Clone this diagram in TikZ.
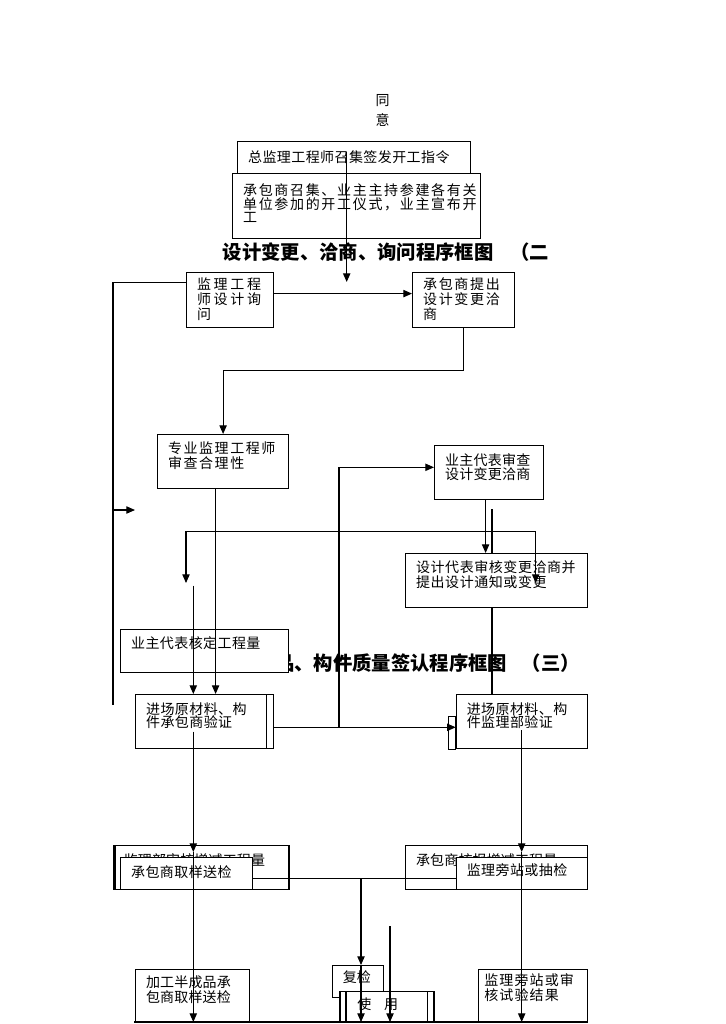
\documentclass[tikz,border=0pt]{standalone}
\usepackage{fontspec}
\setmainfont{Noto Sans CJK SC}
\usetikzlibrary{arrows.meta}
\newdimen\pxu \pxu=0.75pt
\newcommand\boxfont[2]{\addfontfeatures{LetterSpace=#1}\fontsize{10.5}{#2}\selectfont}
\tikzset{
  stage/.style={draw, fill=white, line width=0.9pt, anchor=north west,
    inner xsep=10.5\pxu, inner ysep=0pt, align=left},
  flow/.style={line width=0.8pt, -{Triangle[length=6.5pt,width=5.5pt]}},
  fork/.style={line width=0.8pt, {Triangle[length=6.5pt,width=5.5pt]}-{Triangle[length=6.5pt,width=5.5pt]}},
  link/.style={line width=0.8pt},
  heading/.style={anchor=base west, inner sep=0pt, font=\fontsize{14.5}{16}\selectfont\bfseries},
}
\begin{document}
\begin{tikzpicture}[x=0.75pt,y=-0.75pt]
\useasboundingbox (0,0) rectangle (725,1024);

% approval and start of works
\node[align=center, font=\fontsize{10.5}{15}\selectfont] (agree) at (382.5,110) {同\\意};
\node[heading] (title2) at (222.5,259) {设计变更、洽商、询问程序框图\hspace{12.75pt}（二};
\node[stage, font=\boxfont{3}{11}, text width=212\pxu, text height=21\pxu, text depth=11\pxu] (order) at (237,141) {总监理工程师召集签发开工指令};
\node[stage, font=\boxfont{12}{10}, text width=227\pxu, text height=22.3\pxu, text depth=42.7\pxu] (ceremony) at (232,173) {承包商召集、业主主持参建各有关\\单位参加的开工仪式，业主宣布开\\工};
\coordinate (go) at (346.7,152);
\draw[flow] (go) -- ++(0,130);

% design change, negotiation, inquiry
\node[stage, font=\boxfont{19}{11.25}, text width=66\pxu, text height=16.6\pxu, text depth=38.4\pxu] (inquire) at (186,272) {监理工程\\师设计询\\问};
\node[stage, font=\boxfont{12}{11.25}, text width=81\pxu, text height=16.6\pxu, text depth=38.4\pxu] (propose) at (412,272) {承包商提出\\设计变更洽\\商};
\draw[flow] ([yshift=6.5\pxu]inquire.east) coordinate (ask) -- (ask -| propose.west);
\coordinate (spine) at (113,705);
\draw[link] ([yshift=17.8\pxu]inquire.west) -| (spine);
\coordinate (back) at (113,510);
\draw[flow] (back) -- ++(22,0);

\node[stage, font=\boxfont{11}{11}, text width=110\pxu, text height=19.3\pxu, text depth=34.7\pxu] (review) at (157,434) {专业监理工程师\\审查合理性};
\node[stage, font=\boxfont{2}{10.5}, text width=88\pxu, text height=19.6\pxu, text depth=34.4\pxu] (owner) at (434,445) {业主代表审查\\设计变更洽商};
\node[stage, font=\boxfont{3}{10}, text width=117\pxu, text height=19.6\pxu, text depth=34.4\pxu] (selfcheck) at (135,694) {进场原材料、构\\件承包商验证};
\draw[link] ([xshift=-7.6\pxu]selfcheck.north east) -- ([xshift=-7.6\pxu]selfcheck.south east);
\node[stage, font=\boxfont{3}{10}, text width=110\pxu, text height=19.6\pxu, text depth=34.4\pxu] (supcheck) at (455.7,694) {进场原材料、构\\件监理部验证};
\draw[link] ([xshift=-7.4\pxu]supcheck.south west) rectangle ([yshift=5.3\pxu]supcheck.west);

% materials quality procedure (3)
\node[heading] (title3) at (158.9,670.3) {原材料、半成品、构件质量签认程序框图\hspace{11pt}（三）};
\node[stage, font=\boxfont{3}{11}, text width=147\pxu, text height=19.3\pxu, text depth=23.7\pxu] (quantity) at (120,629) {业主代表核定工程量};

\draw[flow] (propose.south) -- ++(0,42) -| (review.north);
\coordinate (pass) at (492,509);
\draw[link] (pass) -- (pass |- supcheck.north);
\node[stage, font=\boxfont{4}{11.25}, text width=161\pxu, text height=19\pxu, text depth=35\pxu] (design) at (405,553) {设计代表审核变更洽商并\\提出设计通知或变更};
\coordinate (forkl) at (186,583);
\coordinate (forkr) at (535.7,583);
\draw[fork] (forkl) -- ++(0,-51.3) -| (forkr);
\draw[flow] ([xshift=-3.5\pxu]owner.south) coordinate (fs) -- (fs |- design.north);
\draw[flow] ([xshift=-7.5\pxu]review.south) coordinate (es) -- (es |- selfcheck.north);
\coordinate (lf) at (193.3,585.7);
\draw[flow] (lf) -- (lf |- selfcheck.north);
\draw[flow] ([yshift=-5.7\pxu]selfcheck.east) coordinate (hj) -- (hj -| supcheck.west);
\coordinate (tap) at (339,726.7);
\draw[flow] (tap) |- ([yshift=5.3\pxu]owner.west);

% sampling and testing
\node[stage, font=\boxfont{1}{11}, text width=154.6\pxu, text height=19.8\pxu, text depth=24.2\pxu] (supqty) at (112.7,845) {监理部审核增减工程量};
\draw[link] ([xshift=2.3\pxu]supqty.north west) -- ([xshift=2.3\pxu]supqty.south west);
\node[stage, font=\boxfont{1}{11}, text width=160.7\pxu, text height=19.8\pxu, text depth=24.2\pxu] (contqty) at (405,845) {承包商核报增减工程量};
\node[stage, font=\boxfont{3}{11}, text width=110.7\pxu, text height=20\pxu, text depth=12\pxu] (sample) at (120,857) {承包商取样送检};
\node[stage, font=\boxfont{3}{11}, text width=110\pxu, text height=18.3\pxu, text depth=13.7\pxu] (witness) at (455.7,857) {监理旁站或抽检};
\node[stage, font=\boxfont{1}{11.25}, text width=93\pxu, text height=18\pxu, text depth=35\pxu] (semi) at (135,969) {加工半成品承\\包商取样送检};
\node[stage, font=\boxfont{8}{11.25}, inner xsep=6\pxu, text width=97\pxu, text height=16.3\pxu, text depth=36.7\pxu] (result) at (477.7,969) {监理旁站或审\\核试验结果};
\draw[link] ([yshift=-5.3\pxu]sample.east) coordinate (ln) -- (ln -| witness.west);
\coordinate (floorl) at (134,1022);
\coordinate (floorr) at (587,1022);
\coordinate (h1) at (193.3,731.7);
\coordinate (h2) at (193.3,852);
\draw[flow] (h1) -- (h2);
\draw[flow] (h2) -- (h2 |- floorl);
\coordinate (j1) at (521.7,730);
\coordinate (j2) at (521.7,852);
\draw[flow] (j1) -- (j2);
\draw[flow] (j2) -- (j2 |- floorl);

\node[stage, font=\boxfont{1}{11}, text width=30\pxu, text height=17\pxu, text depth=15\pxu] (recheck) at (331.7,965) {复检};
\node[stage, font=\boxfont{1}{11}, inner xsep=17.5\pxu, text width=59\pxu, text height=18.3\pxu, text depth=12.7\pxu] (use) at (339.3,991) {使\hspace{9.5pt}用};
\draw[link] ([xshift=6.7\pxu]use.north west) -- ([xshift=6.7\pxu]use.south west);
\draw[link] ([xshift=-6.6\pxu]use.north east) -- ([xshift=-6.6\pxu]use.south east);
\coordinate (m1) at (361,878.3);
\draw[flow] (m1) -- (m1 |- recheck.north);
\draw[flow] (m1 |- recheck.north) -- (m1 |- floorl);
\coordinate (u1) at (390,926);
\draw[flow] (u1) -- (u1 |- floorl);
\draw[link] (floorl) -- (floorr);
\end{tikzpicture}
\end{document}
